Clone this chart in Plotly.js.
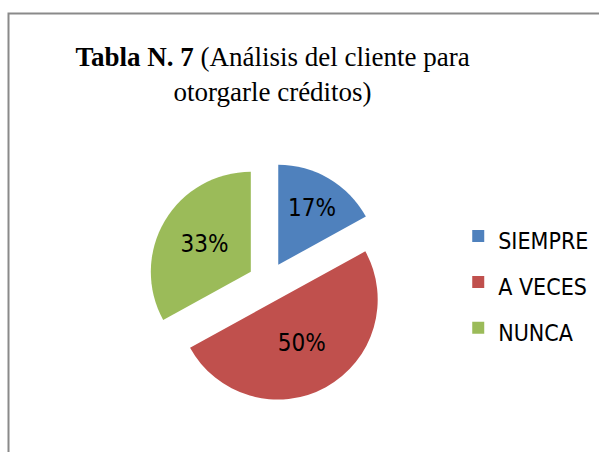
<!DOCTYPE html>
<html>
<head>
<meta charset="utf-8">
<script src="https://cdn.plot.ly/plotly-3.0.1.min.js"></script>
<style>html,body{margin:0;padding:0;background:#fff;}#chart{width:599px;height:452px;}</style>
</head>
<body>
<div id="chart"></div>
<script>
const categories = ['SIEMPRE', 'A VECES', 'NUNCA'];
const percentValues = [17, 50, 33];
const sliceColors = ['#4F81BD', '#C0504D', '#9BBB59'];
const titleBold = 'Tabla N. 7';
const titleRest = ' (Análisis del cliente para<br>otorgarle créditos)';

const narrow = "'DejaVu Sans Condensed', 'Liberation Sans Narrow', sans-serif";

const legendLabels = categories.map(c => '<span style="font-size:23px">' + c + '</span>');

const trace = {
  type: 'pie',
  labels: legendLabels,
  values: percentValues,
  sort: false,
  direction: 'clockwise',
  rotation: 0,
  pull: [0.2, 0.2, 0.2],
  marker: {colors: sliceColors, line: {width: 0}},
  textinfo: 'percent',
  texttemplate: '%{percent:.0%}',
  textposition: 'inside',
  insidetextorientation: 'horizontal',
  insidetextfont: {family: narrow, size: 24, color: '#000000'},
  hoverinfo: 'label+percent',
  domain: {x: [0.247, 0.648], y: [0.1106, 0.6416]}
};

const layout = {
  width: 599,
  height: 452,
  margin: {l: 0, r: 0, t: 0, b: 0},
  paper_bgcolor: '#ffffff',
  showlegend: true,
  title: {
    text: '<b>' + titleBold + '</b>' + titleRest,
    font: {family: "'Liberation Serif', 'Times New Roman', serif", size: 27, color: '#000000'},
    x: 0.455, xanchor: 'center', xref: 'paper',
    y: 0.855, yanchor: 'top', yref: 'container'
  },
  legend: {
    x: 0.765, xanchor: 'left',
    y: 0.376, yanchor: 'middle',
    font: {family: narrow, size: 33, color: '#000000'},
    bgcolor: 'rgba(0,0,0,0)'
  },
  shapes: [{
    type: 'rect', xref: 'paper', yref: 'paper',
    x0: 8.5 / 599, x1: 1.02, y0: -0.05, y1: 1 - 13.5 / 452,
    line: {color: '#8a8a8a', width: 2}, fillcolor: 'rgba(0,0,0,0)', layer: 'below'
  }]
};

Plotly.newPlot('chart', [trace], layout, {displayModeBar: false, staticPlot: true});
</script>
</body>
</html>
